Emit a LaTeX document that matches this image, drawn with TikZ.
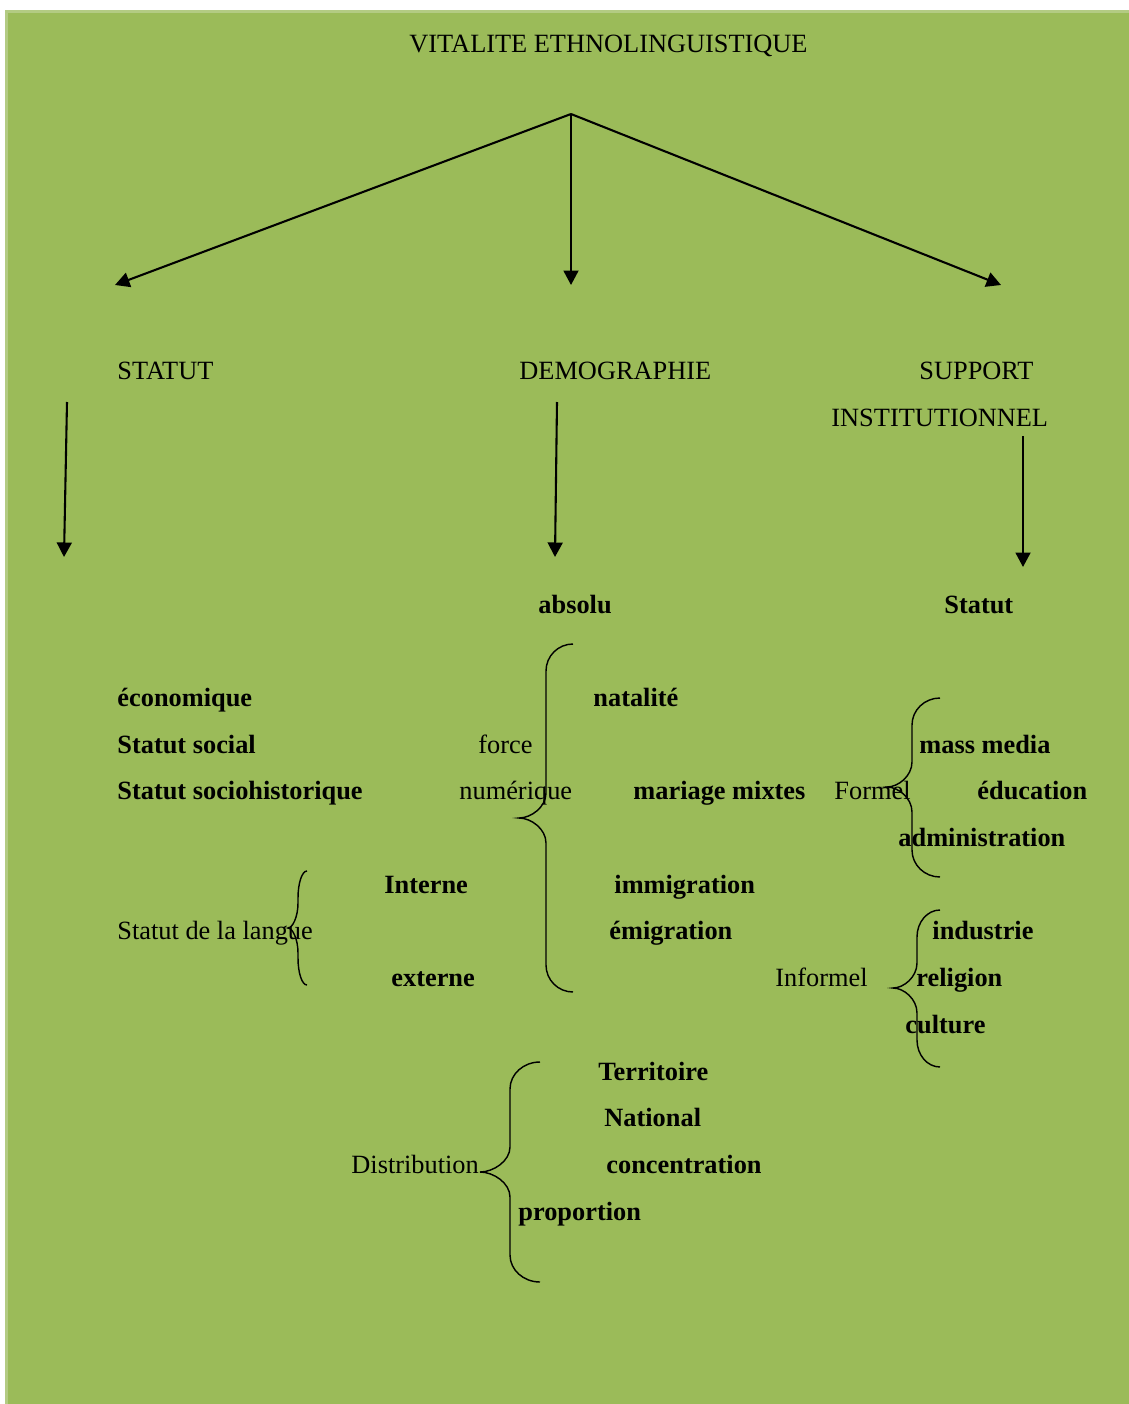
\documentclass[tikz,border=0pt]{standalone}
\usepackage{fontspec}
\setmainfont{Liberation Serif}
\usetikzlibrary{arrows.meta}

\definecolor{vert}{HTML}{9BBB59}
\definecolor{vertclair}{HTML}{B3CB83}

% accolade : x bout, y haut, x trait, x pointe, y pointe, y bas
\newcommand{\accolade}[6]{%
  \draw[accol] (#1,#2) .. controls ({#3+0.45*(#1-#3)},#2) and (#3,#2+12) .. (#3,#2+27)
    -- (#3,#5-25) .. controls (#3,#5-11) and ({#4+0.45*(#3-#4)},#5) .. (#4,#5)
    .. controls ({#4+0.45*(#3-#4)},#5) and (#3,#5+11) .. (#3,#5+25)
    -- (#3,#6-27) .. controls (#3,#6-12) and ({#3+0.45*(#1-#3)},#6) .. (#1,#6);}

\begin{document}
\begin{tikzpicture}[x=0.4554pt,y=-0.4554pt,
    txt/.style={anchor=base west,inner sep=0pt,font=\fontsize{12}{14}\selectfont},
    gras/.style={txt,font=\fontsize{12}{14}\selectfont\bfseries},
    fleche/.style={line width=0.95pt,-{Triangle[length=6.6pt,width=6.8pt]}},
    accol/.style={line width=0.65pt}]
    \fill[white] (0,0) rectangle (1129,1404);
    \fill[vertclair] (5,10) rectangle (1129,1404);
    \fill[vert] (8,13) rectangle (1129,1404);
    \useasboundingbox (0,0) rectangle (1129,1404);

    \node[txt] (titre) at (409,52.7) {VITALITE ETHNOLINGUISTIQUE};
    \node[txt] (statut) at (117,379) {STATUT};
    \node[txt] (demo) at (519,379) {DEMOGRAPHIE};
    \node[txt] (support) at (919,379) {SUPPORT};
    \node[txt] (institut) at (831,426) {INSTITUTIONNEL};

    \coordinate (sommet) at (571,114);
    \coordinate (bout-statut) at (115,285);
    \coordinate (bout-demo) at (571,285);
    \coordinate (bout-support) at (1001,285);
    \draw[fleche] (sommet) -- (bout-statut);
    \draw[fleche] (sommet) -- (bout-demo);
    \draw[fleche] (sommet) -- (bout-support);

    \coordinate (statut-a) at (67,402);
    \coordinate (statut-b) at (64,557);
    \coordinate (demo-a) at (557,402);
    \coordinate (demo-b) at (555,557);
    \coordinate (support-a) at (1023,436);
    \coordinate (support-b) at (1023,567);
    \draw[fleche] (statut-a) -- (statut-b);
    \draw[fleche] (demo-a) -- (demo-b);
    \draw[fleche] (support-a) -- (support-b);

    \node[gras] (absolu) at (538,613) {absolu};
    \node[gras] (statutinst) at (944,613) {Statut};

    \node[gras] (economique) at (117,706) {économique};
    \node[gras] (social) at (117,753) {Statut social};
    \node[gras] (socio) at (117,799) {Statut sociohistorique};
    \node[txt] (langue) at (117,939) {Statut de la langue};
    \node[gras] (interne) at (384,893) {Interne};
    \node[gras] (externe) at (391,986) {externe};

    \node[txt] (force) at (478,753) {force};
    \node[txt] (numerique) at (459,799) {numérique};
    \node[gras] (natalite) at (593,706) {natalité};
    \node[gras] (mariage) at (633,799) {mariage mixtes};
    \node[gras] (immigration) at (614,893) {immigration};
    \node[gras] (emigration) at (609,939) {émigration};

    \node[txt] (formel) at (834,799) {Formel};
    \node[gras] (media) at (919,753) {mass media};
    \node[gras] (education) at (977,799) {éducation};
    \node[gras] (admin) at (898,846) {administration};
    \node[txt] (informel) at (775,986) {Informel};
    \node[gras] (industrie) at (932,939) {industrie};
    \node[gras] (religion) at (916,986) {religion};
    \node[gras] (culture) at (905,1033) {culture};

    \node[txt] (distribution) at (351,1173) {Distribution};
    \node[gras] (territoire) at (598,1080) {Territoire};
    \node[gras] (national) at (604,1126) {National};
    \node[gras] (concentration) at (606,1173) {concentration};
    \node[gras] (proportion) at (518,1220) {proportion};

    \accolade{307}{871}{298}{288}{928}{985}
    \accolade{573}{644}{546}{519}{818}{992}
    \accolade{940}{698}{912}{887}{787}{877}
    \accolade{940}{910}{917}{893}{988}{1067}
    \accolade{540}{1062}{510}{480}{1172}{1282}
\end{tikzpicture}
\end{document}
